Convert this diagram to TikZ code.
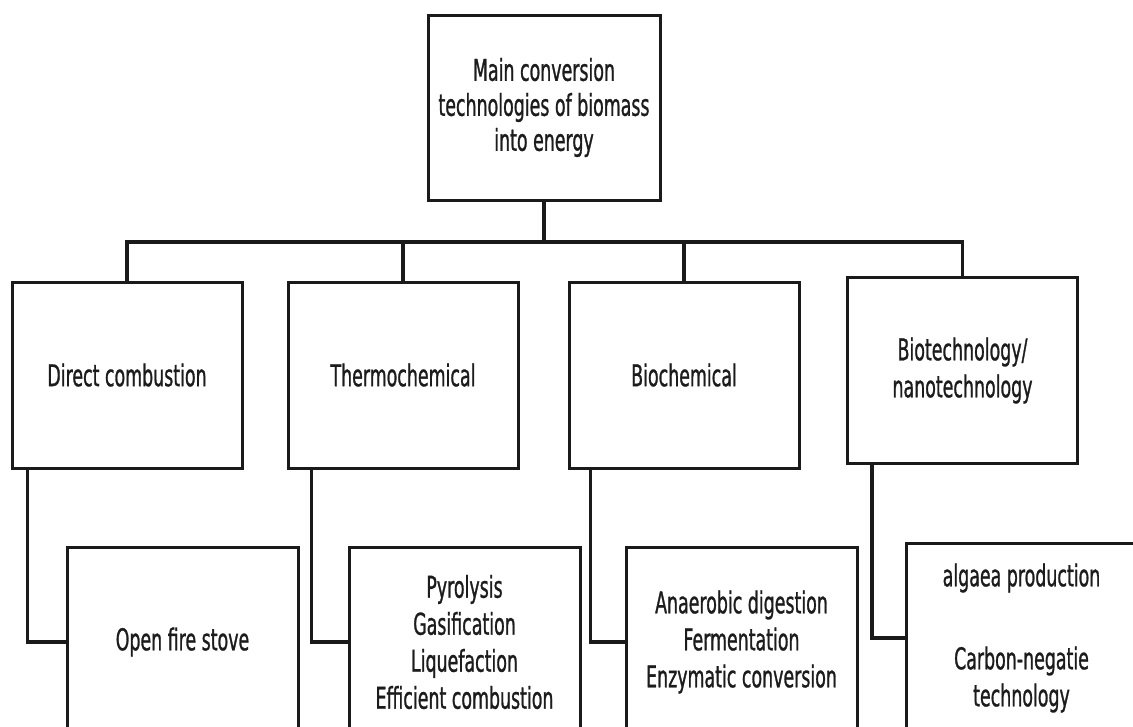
\documentclass[tikz,border=0pt]{standalone}
\usepackage{fontspec}
\newfontfamily\lblfont[FakeStretch=0.58,FakeBold=0.9]{DejaVu Sans}
\definecolor{linec}{HTML}{1A1A1A}
\definecolor{textc}{HTML}{1C1C1C}
\begin{document}
\begin{tikzpicture}[x=1pt,y=-1pt,
  box/.style={draw=linec, line width=3pt, fill=white, align=center, inner sep=0pt,
    text=textc, font=\lblfont\fontsize{30}{37}\selectfont},
  topbox/.style={box, font=\lblfont\fontsize{30}{35}\selectfont},
  midbox/.style={box, minimum width=230pt, minimum height=186pt},
  lowbox/.style={box, minimum width=231pt, minimum height=190pt},
  conn/.style={draw=linec, line width=3.5pt}]
\path[use as bounding box] (0,0) rectangle (1133,726);
\clip (0,0) rectangle (1133,726);
\fill[white] (0,0) rectangle (1133,726);

\node[topbox, minimum width=232pt, minimum height=185pt] (top) at (544,107.5)
  {Main conversion\\technologies of biomass\\into energy};

\node[midbox] (d1) at (127,375) {Direct combustion};
\node[midbox] (d2) at (403,375) {Thermochemical};
\node[midbox] (d3) at (684,375) {Biochemical};
\node[midbox] (d4) at (962.5,370.5) {Biotechnology/\\nanotechnology};

\node[lowbox] (e1) at (182.5,642) {Open fire stove};
\node[lowbox] (e2) at (464.5,642) {Pyrolysis\\Gasification\\Liquefaction\\Efficient combustion};
\node[lowbox] (e3) at (741.5,642) {Anaerobic digestion\\Fermentation\\Enzymatic conversion};
\node[lowbox] (e4) at (1021.5,638) {algaea production\\[46pt]Carbon-negatie\\technology};

\coordinate (bus) at (544,242);
\draw[conn] (top.south) -- (bus);
\draw[conn] (d1.north) |- (bus);
\draw[conn] (d2.north) |- (bus);
\draw[conn] (d3.north) |- (bus);
\draw[conn] (d4.north) |- (bus);

\draw[conn] ([xshift=17pt]d1.south west) |- (e1.west);
\draw[conn] ([xshift=25pt]d2.south west) |- (e2.west);
\draw[conn] ([xshift=23pt]d3.south west) |- (e3.west);
\draw[conn] ([xshift=26pt]d4.south west) |- (e4.west);
\end{tikzpicture}
\end{document}
